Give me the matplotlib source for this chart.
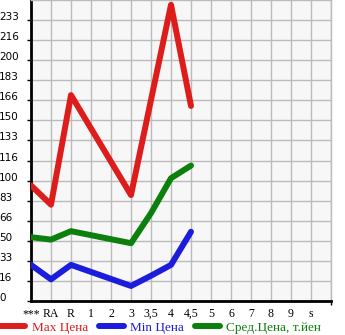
"""
Price chart by model grade (max / min / average)
"""
import matplotlib
matplotlib.use("Agg")
import matplotlib.pyplot as plt
import numpy as np

# Categories along the x axis
categories = ["***", "RA", "R", "1", "2", "3", "3,5", "4", "4,5", "5", "6", "7", "8", "9", "s"]

# Series (category index -> value)
max_idx = [0, 1, 2, 5, 7, 8]
max_vals = [96, 80, 171, 88, 246, 162]

min_idx = [0, 1, 2, 5, 6, 7, 8]
min_vals = [30, 18, 30, 12.5, 21, 30, 57.5]

avg_idx = [0, 1, 2, 5, 6, 7, 8]
avg_vals = [53, 51, 58, 48, 73, 102, 112.5]

y_top = 250
y_ticks = [250 / 15 * i for i in range(15)]
y_labels = [str(int(v + 1e-9)) for v in y_ticks]

# ==========================================================
# Figure
# ==========================================================
fig = plt.figure(figsize=(3.45, 3.35), dpi=100)
ax = fig.add_axes([31 / 345, 34 / 335, 300 / 345, 301 / 335])
ax.set_facecolor("#f7f7f7")

lw = 4.3
ax.plot(max_idx, max_vals, color="#dd1c1c", lw=lw, solid_capstyle="round",
        solid_joinstyle="round", label="Max Цена", zorder=3)
ax.plot(min_idx, min_vals, color="#1c1cdd", lw=lw, solid_capstyle="round",
        solid_joinstyle="round", label="Min Цена", zorder=3)
ax.plot(avg_idx, avg_vals, color="#0c800c", lw=lw, solid_capstyle="round",
        solid_joinstyle="round", label="Сред.Цена, т.йен", zorder=3)

ax.set_xlim(0, 15)
ax.set_ylim(0, y_top)
ax.set_xticks(range(len(categories)))
ax.set_xticklabels(categories, family="Liberation Serif", fontsize=8.5)
ax.set_xticks(np.arange(1, 16), minor=True)
ax.set_yticks(y_ticks)
ax.set_yticklabels(y_labels, family="DejaVu Sans", fontsize=7.5, ha="left",
                   va="baseline")
ax.tick_params(axis="y", length=3, width=1, pad=20, color="black")
ax.tick_params(axis="x", which="major", length=0, pad=5)
ax.tick_params(axis="x", which="minor", length=3, width=1, color="black")

ax.grid(True, color="#bbbbbb", lw=1)
ax.grid(True, which="minor", axis="x", color="#bbbbbb", lw=1)
ax.set_axisbelow(True)

for side in ["top", "right"]:
    ax.spines[side].set_color("#bbbbbb")
    ax.spines[side].set_linewidth(1)
for side in ["left", "bottom"]:
    ax.spines[side].set_color("black")
    ax.spines[side].set_linewidth(2)

fig.legend(loc="lower left", bbox_to_anchor=(-0.015, -0.012), ncol=3,
           frameon=False, prop={"family": "Liberation Serif", "size": 9.5},
           labelcolor="linecolor", handlelength=1.9, handletextpad=0.5,
           columnspacing=0.8, borderaxespad=0)

fig.savefig("out.png", dpi=100)
